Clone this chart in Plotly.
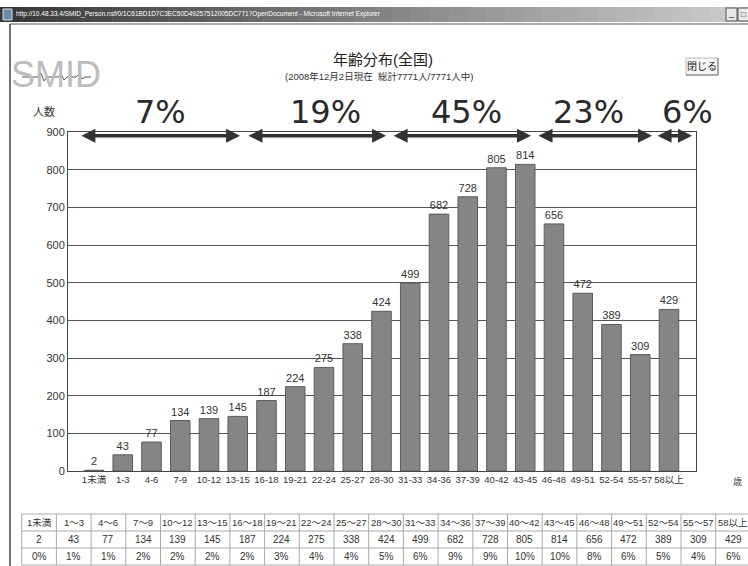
import plotly.graph_objects as go

# ---------------- data ----------------
categories = ["1未満", "1-3", "4-6", "7-9", "10-12", "13-15", "16-18", "19-21", "22-24",
              "25-27", "28-30", "31-33", "34-36", "37-39", "40-42", "43-45", "46-48",
              "49-51", "52-54", "55-57", "58以上"]
values = [2, 43, 77, 134, 139, 145, 187, 224, 275, 338, 424, 499, 682, 728, 805, 814,
          656, 472, 389, 309, 429]
table_headers = ["1未満", "1～3", "4～6", "7～9", "10～12", "13～15", "16～18", "19～21",
                 "22～24", "25～27", "28～30", "31～33", "34～36", "37～39", "40～42",
                 "43～45", "46～48", "49～51", "52～54", "55～57", "58以上"]
table_percents = ["0%", "1%", "1%", "2%", "2%", "2%", "2%", "3%", "4%", "4%", "5%", "6%",
                  "9%", "9%", "10%", "10%", "8%", "6%", "5%", "4%", "6%"]
group_labels = ["7%", "19%", "45%", "23%", "6%"]
y_ticks = [0, 100, 200, 300, 400, 500, 600, 700, 800, 900]

# ---------------- geometry helpers ----------------
W, H = 748, 566
def px(x):
    return x / W
def py(y):
    return 1 - y / H

NARROW = "Liberation Sans Narrow, Arial Narrow, Liberation Sans, Noto Sans CJK JP"
DARK = "#2a2a2a"

fig = go.Figure()
fig.add_trace(go.Bar(
    x=categories, y=values, text=[str(v) for v in values], textposition="outside",
    textfont=dict(family=NARROW, size=11, color="#333"), constraintext="none",
    marker=dict(color="#858585", line=dict(color="#5c5c5c", width=1)),
    width=0.68, cliponaxis=False, showlegend=False,
))

shapes = []
annotations = []

def note(x, y, text, size, color="#333", family=NARROW, xref="paper", xanchor="center"):
    annotations.append(dict(xref=xref, yref="paper", x=x, y=y, text=text, showarrow=False,
                            xanchor=xanchor, yanchor="middle",
                            font=dict(family=family, size=size, color=color)))

# ---- browser title bar (gradient) ----
n = 40
for i in range(n):
    t = i / (n - 1)
    c = int(0x38 + t * (0xcc - 0x38))
    x0 = i * W / n
    x1 = (i + 1) * W / n + 0.5
    shapes.append(dict(type="rect", xref="paper", yref="paper", x0=px(x0), x1=px(x1),
                       y0=py(22), y1=py(7), line=dict(width=0),
                       fillcolor=f"rgb({c},{c},{c})", layer="below"))
shapes.append(dict(type="rect", xref="paper", yref="paper", x0=px(3), x1=px(12),
                   y0=py(20), y1=py(9), line=dict(color="#ddd", width=1), fillcolor="#6a8ab0"))
for bx0, bx1 in [(726, 737), (738, 749)]:
    shapes.append(dict(type="rect", xref="paper", yref="paper", x0=px(bx0), x1=px(bx1),
                       y0=py(21), y1=py(8), line=dict(color="#555", width=1), fillcolor="#e8e8e8"))
note(px(731.5), py(13), "_", 9, "#111", "Liberation Sans")
note(px(743.5), py(14.5), "□", 8, "#111")
note(px(14), py(14.5),
     "http://10.48.33.4/SMID_Person.nsf/0/1C61BD1D7C3EC50D49257512005DC771?OpenDocument - Microsoft Internet Explorer",
     6.5, "#fff", xanchor="left")
# window borders
shapes.append(dict(type="line", xref="paper", yref="paper", x0=px(10), x1=px(748),
                   y0=py(24), y1=py(24), line=dict(color="#555", width=1)))
shapes.append(dict(type="line", xref="paper", yref="paper", x0=px(10), x1=px(10),
                   y0=py(24), y1=py(566), line=dict(color="#444", width=1.5)))

# ---- SMID logo ----
note(px(56), py(74), "SMID", 36, "#bdbdbd")
wave = [(22, 77), (38, 77), (41, 73), (44, 81), (47, 77), (58, 77), (61, 74), (64, 80),
        (67, 77), (76, 77), (79, 74), (82, 79), (85, 77), (91, 77)]
path = "M " + " L ".join(f"{px(a):.5f},{py(b):.5f}" for a, b in wave)
shapes.append(dict(type="path", xref="paper", yref="paper", path=path,
                   line=dict(color="#555", width=1)))

# ---- titles ----
note(px(383), py(60), "年齢分布(全国)", 15, "#222")
note(px(379), py(76), "(2008年12月2日現在  総計7771人/7771人中)", 9.5, "#333")
note(px(44), py(112), "人数", 11, "#333")

# ---- close button ----
shapes.append(dict(type="rect", xref="paper", yref="paper", x0=px(686), x1=px(718),
                   y0=py(75), y1=py(58), line=dict(color="#bbb", width=1), fillcolor="#f6f6f6"))
shapes.append(dict(type="line", xref="paper", yref="paper", x0=px(718), x1=px(718),
                   y0=py(75), y1=py(58), line=dict(color="#777", width=1)))
shapes.append(dict(type="line", xref="paper", yref="paper", x0=px(686), x1=px(718),
                   y0=py(75), y1=py(75), line=dict(color="#777", width=1)))
note(px(702), py(66.5), "閉じる", 10, "#222")

# ---- group arrows and percentages ----
arrow_spans = [(-0.49, 5.08), (5.32, 10.16), (10.37, 15.2), (15.41, 19.41), (19.55, 20.8)]
label_x = [2.33, 8.04, 12.97, 17.2, 20.63]
for (a0, a1), lx, lab in zip(arrow_spans, label_x, group_labels):
    annotations.append(dict(xref="x", yref="y", axref="x", ayref="y", x=a1, y=890, ax=a0, ay=890,
                            text="", showarrow=True, arrowhead=2, arrowside="end+start",
                            arrowwidth=3.5, arrowsize=0.8, arrowcolor="#333"))
    note(lx, py(112), lab, 32, DARK, "DejaVu Sans", xref="x")

# ---- x axis unit ----
note(px(737), py(482), "歳", 9, "#444")

# ---- data table ----
col0, colw = 21.7, 34.7
rows = [514, 531, 548, 565]
for r in rows:
    shapes.append(dict(type="line", xref="paper", yref="paper", x0=px(col0), x1=px(750),
                       y0=py(r), y1=py(r), line=dict(color="#aaa", width=1)))
for i in range(len(table_headers) + 1):
    xx = col0 + i * colw
    shapes.append(dict(type="line", xref="paper", yref="paper", x0=px(xx), x1=px(xx),
                       y0=py(rows[0]), y1=py(rows[-1]), line=dict(color="#aaa", width=1)))
for i, (hd, v, pc) in enumerate(zip(table_headers, values, table_percents)):
    cx = col0 + (i + 0.5) * colw
    for r, txt in enumerate([hd, str(v), pc]):
        note(px(cx), py((rows[r] + rows[r + 1]) / 2), txt, 9.5 if r == 0 else 10, "#333")

fig.update_layout(
    width=W, height=H, margin=dict(l=0, r=0, t=0, b=0),
    paper_bgcolor="white", plot_bgcolor="white",
    xaxis=dict(domain=[px(68), px(696)], range=[-0.904, 20.94], type="category",
               showline=True, linecolor="#444", linewidth=1, mirror=True, ticks="",
               showgrid=False, tickangle=0, automargin=False,
               tickfont=dict(family=NARROW, size=9.5, color="#333")),
    yaxis=dict(domain=[py(471), py(132)], range=[0, 900], tickvals=y_ticks,
               showline=True, linecolor="#444", linewidth=1, mirror=True, ticks="",
               showgrid=True, gridcolor="#555", gridwidth=1, zeroline=False, automargin=False,
               tickfont=dict(family=NARROW, size=11, color="#333")),
    shapes=shapes, annotations=annotations, showlegend=False,
)

fig.write_html("out.html")
